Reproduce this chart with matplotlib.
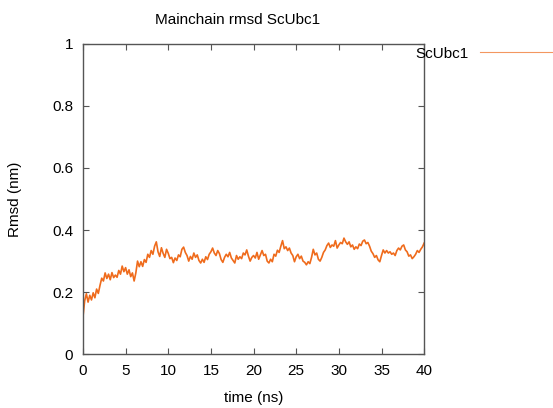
import numpy as np
import matplotlib
matplotlib.use('Agg')
import matplotlib.pyplot as plt
from matplotlib.lines import Line2D

# ─── Data (0.2 ns spacing) ───────────────────────────────────────────────────
time_ns = np.round(np.arange(0, 40.01, 0.2), 1)

rmsd_nm = [
    0.120, 0.172, 0.195, 0.168, 0.190, 0.175, 0.198, 0.182, 0.210, 0.196,
    0.222, 0.245, 0.236, 0.262, 0.244, 0.258, 0.240, 0.263, 0.247, 0.255,
    0.248, 0.270, 0.258, 0.284, 0.266, 0.279, 0.258, 0.272, 0.250, 0.262,
    0.236, 0.262, 0.300, 0.282, 0.298, 0.283, 0.305, 0.296, 0.322, 0.312,
    0.334, 0.322, 0.348, 0.362, 0.330, 0.315, 0.343, 0.325, 0.312, 0.338,
    0.325, 0.308, 0.312, 0.295, 0.310, 0.302, 0.320, 0.314, 0.338, 0.345,
    0.328, 0.318, 0.300, 0.315, 0.306, 0.326, 0.312, 0.320, 0.302, 0.294,
    0.306, 0.296, 0.314, 0.305, 0.322, 0.330, 0.342, 0.326, 0.318, 0.334,
    0.324, 0.305, 0.296, 0.312, 0.322, 0.314, 0.328, 0.310, 0.302, 0.294,
    0.318, 0.306, 0.314, 0.308, 0.326, 0.320, 0.336, 0.316, 0.300, 0.312,
    0.318, 0.310, 0.328, 0.306, 0.320, 0.334, 0.318, 0.322, 0.300, 0.294,
    0.306, 0.298, 0.322, 0.316, 0.335, 0.328, 0.348, 0.366, 0.340, 0.346,
    0.334, 0.342, 0.326, 0.318, 0.298, 0.314, 0.322, 0.308, 0.316, 0.300,
    0.296, 0.288, 0.298, 0.292, 0.312, 0.338, 0.320, 0.326, 0.306, 0.300,
    0.312, 0.328, 0.336, 0.350, 0.358, 0.344, 0.352, 0.348, 0.366, 0.342,
    0.352, 0.360, 0.356, 0.374, 0.362, 0.354, 0.362, 0.346, 0.352, 0.338,
    0.346, 0.340, 0.355, 0.350, 0.364, 0.368, 0.356, 0.360, 0.348, 0.332,
    0.324, 0.312, 0.318, 0.304, 0.298, 0.318, 0.336, 0.326, 0.334, 0.326,
    0.330, 0.322, 0.326, 0.318, 0.334, 0.342, 0.336, 0.348, 0.352, 0.336,
    0.330, 0.316, 0.320, 0.308, 0.314, 0.322, 0.334, 0.328, 0.338, 0.346,
    0.358,
]

x_ticks = [0, 5, 10, 15, 20, 25, 30, 35, 40]
y_ticks = [0, 0.2, 0.4, 0.6, 0.8, 1]
y_tick_labels = ['0', '0.2', '0.4', '0.6', '0.8', '1']

LINE_COLOR = '#ef6b1c'

plt.rcParams['font.family'] = ['Liberation Sans', 'DejaVu Sans']
plt.rcParams['font.size'] = 11

fig = plt.figure(figsize=(5.53, 4.08), dpi=100)
ax = fig.add_axes([0.150, 0.1316, 0.617, 0.7614])

ax.plot(time_ns, rmsd_nm, color=LINE_COLOR, linewidth=1.2)

ax.set_xlim(0, 40)
ax.set_ylim(0, 1)
ax.set_xticks(x_ticks)
ax.set_xticklabels([str(t) for t in x_ticks])
ax.set_yticks(y_ticks)
ax.set_yticklabels(y_tick_labels)
ax.tick_params(direction='in', length=4, width=0.8, color='#555555',
               top=True, right=True, pad=7)
for s in ax.spines.values():
    s.set_color('#555555')
    s.set_linewidth(1.0)

ax.set_xlabel('time (ns)', labelpad=9)
ax.set_ylabel('Rmsd (nm)', labelpad=22)

fig.text(238 / 553, 1 - 20 / 408, 'Mainchain rmsd ScUbc1', ha='center', va='center')

# legend outside to the right, gnuplot style
fig.text(442 / 553, 1 - 54 / 408, 'ScUbc1', ha='center', va='center')
fig.add_artist(Line2D([480 / 553, 553 / 553], [1 - 52 / 408, 1 - 52 / 408],
                      transform=fig.transFigure, color=LINE_COLOR,
                      linewidth=0.8, alpha=0.7))

fig.savefig('out.png', dpi=100)
